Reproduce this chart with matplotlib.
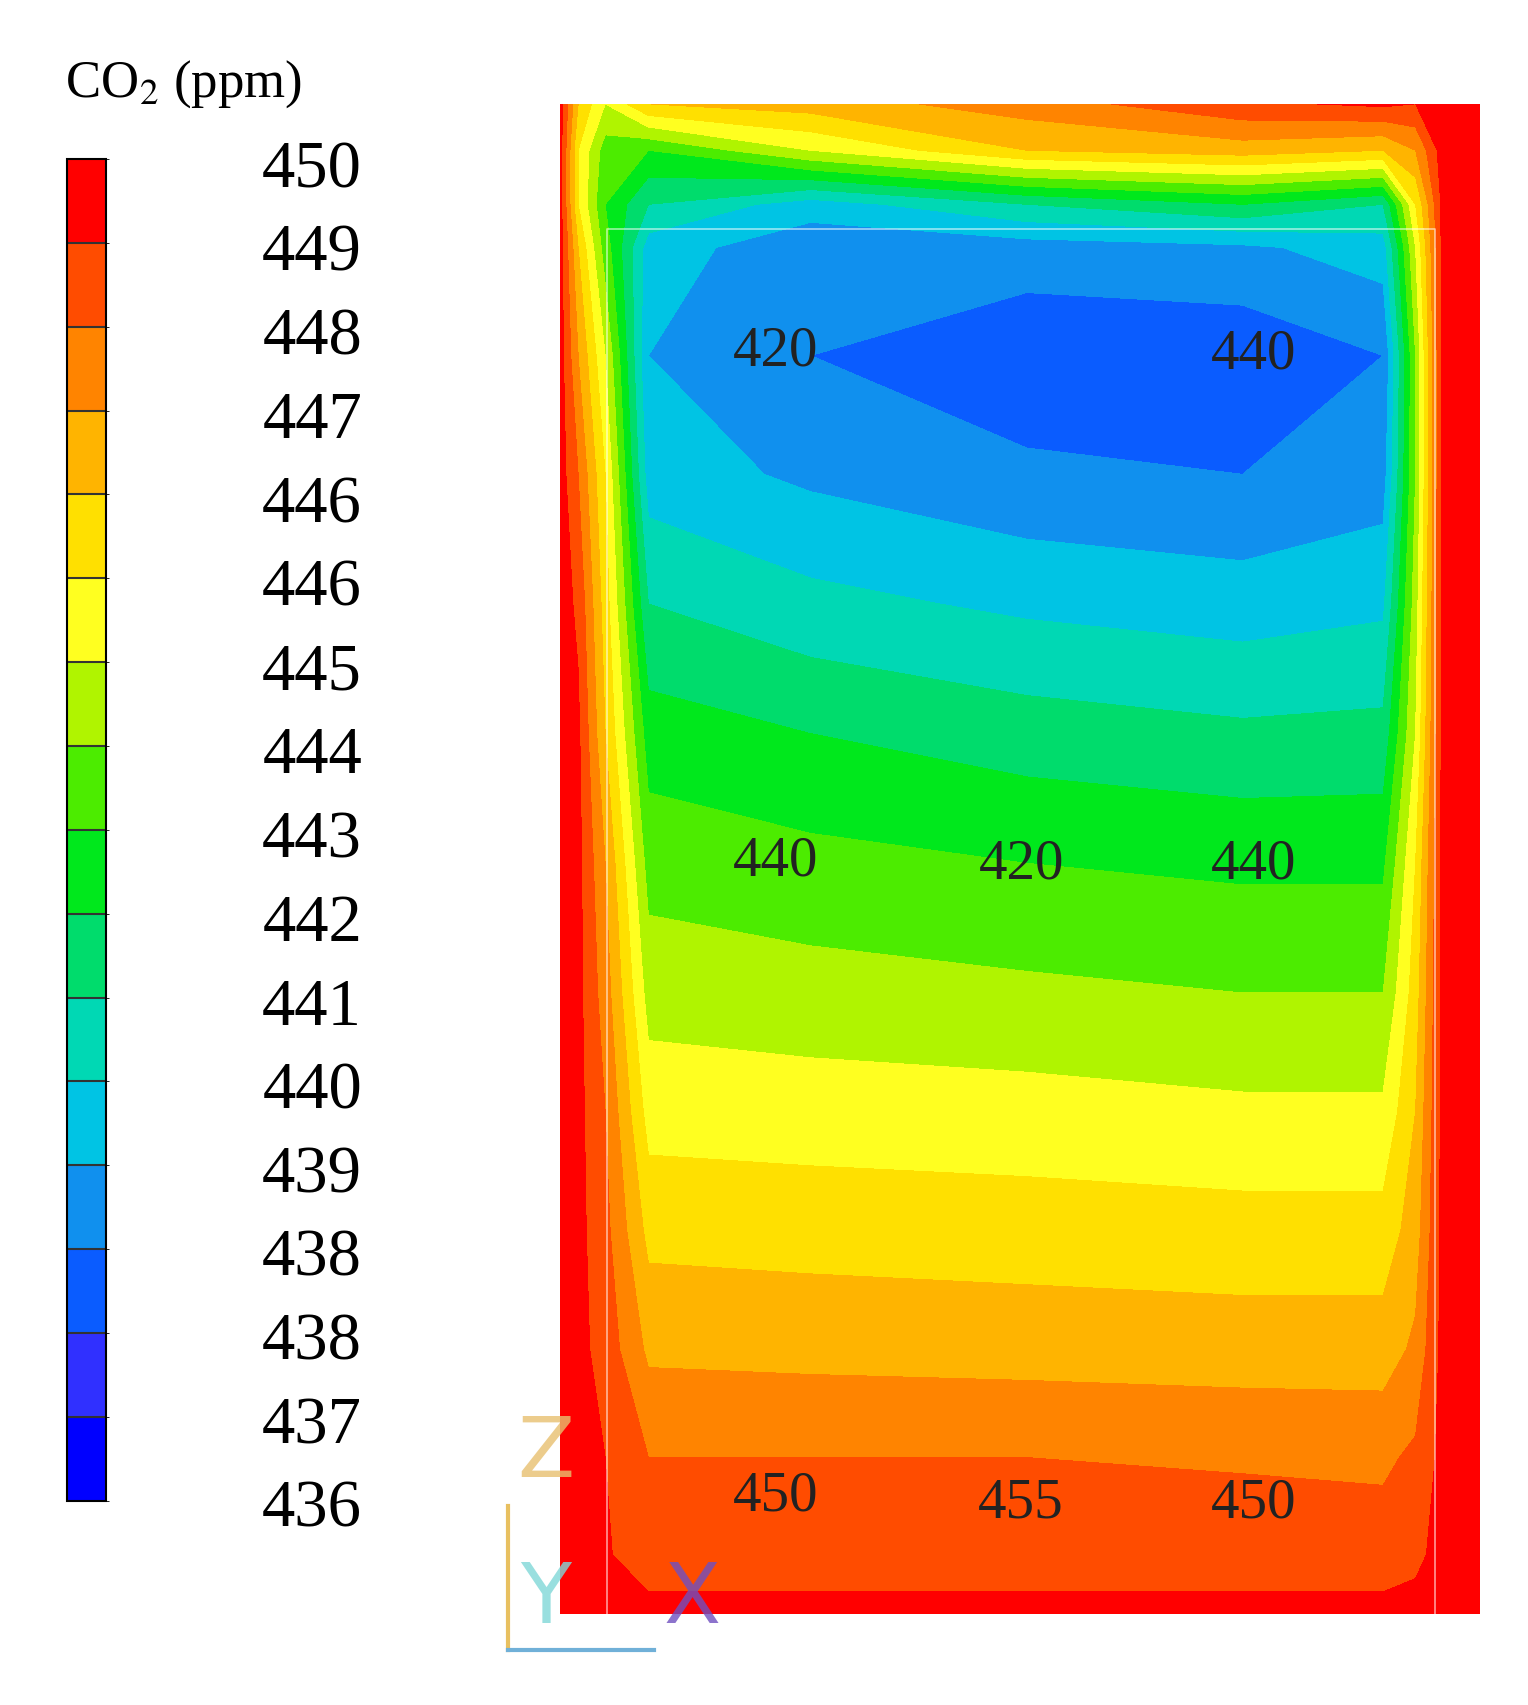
import numpy as np
import matplotlib
matplotlib.use("Agg")
import matplotlib.pyplot as plt
from matplotlib.colors import ListedColormap, BoundaryNorm
from matplotlib.cm import ScalarMappable

plt.rcParams["mathtext.fontset"] = "stix"

# colour bands, bottom (436) to top (450)
band_colors = ["#0000ff", "#3030ff", "#0a5cff", "#1090ee", "#00c4e4", "#00d8b4",
               "#00dc6c", "#00e81c", "#4cec00", "#b0f400", "#ffff20", "#ffe000",
               "#ffb400", "#ff8400", "#ff4c00", "#ff0000"]
tick_labels = ["436", "437", "438", "438", "439", "440", "441", "442", "443",
               "444", "445", "446", "446", "447", "448", "449", "450"]

# field sampled on a coarse grid (image pixel coords), values = band index
xs = [518, 535, 560, 600, 750, 950, 1150, 1280, 1310, 1335, 1370]
ys = [97, 140, 190, 230, 330, 440, 560, 680, 800, 920, 1030, 1140, 1250, 1350, 1440, 1495]
field = [
    [15.5, 12.0, 10.0, 12.0, 12.5, 13.5, 14.8, 15.2, 15.0, 15.5, 15.5],
    [15.5, 11.0, 8.5, 8.0, 10.0, 12.0, 12.5, 12.0, 13.0, 15.5, 15.5],
    [15.5, 11.0, 8.0, 6.0, 4.5, 6.0, 7.0, 6.0, 11.0, 15.3, 15.5],
    [15.5, 12.0, 8.5, 4.5, 3.3, 3.5, 3.8, 4.5, 10.0, 15.3, 15.5],
    [15.5, 13.0, 10.0, 4.0, 3.0, 2.3, 2.3, 3.0, 9.0, 15.3, 15.5],
    [15.5, 14.0, 11.0, 4.5, 3.8, 3.2, 3.0, 3.5, 9.0, 15.3, 15.5],
    [15.5, 14.8, 11.5, 6.0, 5.3, 4.8, 4.5, 4.8, 9.5, 15.3, 15.5],
    [15.5, 15.2, 12.0, 7.5, 7.0, 6.5, 6.2, 6.3, 10.0, 15.3, 15.5],
    [15.5, 15.3, 13.0, 8.6, 8.3, 8.0, 7.8, 7.8, 11.0, 15.3, 15.5],
    [15.5, 15.3, 13.5, 9.6, 9.4, 9.2, 9.0, 9.0, 11.5, 15.3, 15.5],
    [15.5, 15.3, 14.0, 10.6, 10.5, 10.4, 10.2, 10.2, 12.0, 15.3, 15.5],
    [15.5, 15.3, 14.3, 11.7, 11.6, 11.5, 11.4, 11.4, 12.5, 15.3, 15.5],
    [15.5, 15.3, 14.6, 12.8, 12.7, 12.6, 12.5, 12.5, 13.2, 15.3, 15.5],
    [15.5, 15.3, 15.0, 14.0, 14.0, 14.0, 13.9, 13.8, 14.2, 15.3, 15.5],
    [15.5, 15.3, 15.1, 14.5, 14.5, 14.5, 14.5, 14.5, 14.8, 15.3, 15.5],
    [15.5, 15.5, 15.5, 15.3, 15.3, 15.3, 15.3, 15.3, 15.3, 15.5, 15.5],
]
annot_text = ["420", "440", "440", "420", "440", "450", "455", "450"]
annot_x = [718, 1160, 718, 945, 1160, 718, 945, 1160]
annot_y = [325, 328, 797, 800, 800, 1385, 1392, 1392]

W, H = 1414.0, 1579.0
cmap = ListedColormap(band_colors)
norm = BoundaryNorm(np.arange(17), cmap.N)


def box(x0, y0, x1, y1):
    return [x0 / W, 1 - y1 / H, (x1 - x0) / W, (y1 - y0) / H]


fig = plt.figure(figsize=(15.28, 17.06), dpi=100)
serif = "Liberation Serif"

ax = fig.add_axes(box(518, 97, 1370, 1495))
X, Y = np.meshgrid(xs, ys)
ax.contourf(X, Y, np.array(field), levels=np.arange(17), cmap=cmap, norm=norm)
ax.plot([562, 562, 1328, 1328], [1495, 213, 213, 1495], color="white", lw=1.2, alpha=0.6)
ax.set_xlim(518, 1370)
ax.set_ylim(1495, 97)
ax.set_xticks([])
ax.set_yticks([])
for s in ax.spines.values():
    s.set_visible(False)
for t, x, y in zip(annot_text, annot_x, annot_y):
    ax.text(x, y, t, ha="center", va="center", fontsize=41, family=serif, color="#222222")

cax = fig.add_axes(box(62, 148, 98, 1390))
cb = fig.colorbar(ScalarMappable(norm=norm, cmap=cmap), cax=cax, drawedges=True)
cb.set_ticks([])
cb.outline.set_linewidth(1.5)
cb.dividers.set_color("#333333")
cb.dividers.set_linewidth(1.5)
for i, lab in enumerate(tick_labels):
    y = 1398 - i * (1398 - 158) / 16.0
    fig.text(335 / W, 1 - y / H, lab, ha="right", va="center", fontsize=48, family=serif)
fig.text(60 / W, 1 - 78 / H, "CO$_2$ (ppm)", ha="left", va="center", fontsize=38, family=serif)

# axis triad
fig.lines.append(plt.Line2D([470 / W, 470 / W], [1 - 1528 / H, 1 - 1395 / H], color="#e8c060", lw=3, transform=fig.transFigure))
fig.lines.append(plt.Line2D([470 / W, 605 / W], [1 - 1528 / H, 1 - 1528 / H], color="#70b0d8", lw=3, transform=fig.transFigure))
fig.text(505 / W, 1 - 1345 / H, "Z", fontsize=60, color="#e8c070", ha="center", va="center", alpha=0.8)
fig.text(505 / W, 1 - 1480 / H, "Y", fontsize=60, color="#80d8d8", ha="center", va="center", alpha=0.8)
fig.text(640 / W, 1 - 1480 / H, "X", fontsize=60, color="#7050c0", ha="center", va="center", alpha=0.8)

fig.savefig("out.png", dpi=100)
